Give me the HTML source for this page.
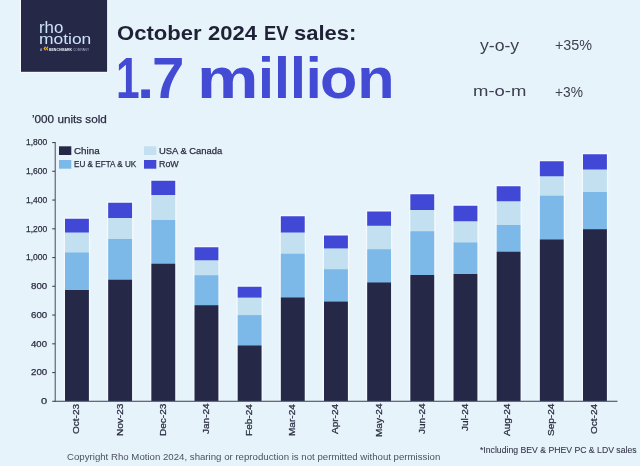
<!DOCTYPE html>
<html lang="en"><head><meta charset="utf-8"><title>October 2024 EV sales</title>
<style>
html,body{margin:0;padding:0;}
body{width:640px;height:466px;overflow:hidden;background:#e7f3fa;font-family:"Liberation Sans",sans-serif;color:#2b2d42;position:relative;}
.a{position:absolute;white-space:nowrap;line-height:1;transform-origin:0 0;-webkit-text-stroke:0.25px currentColor;}
.w{position:absolute;white-space:nowrap;line-height:1;}
.w span{display:inline-block;position:relative;width:0;vertical-align:top;transform-origin:0 0;white-space:pre;}
.s{position:absolute;}
.tk{position:absolute;left:52.2px;width:3px;height:1.1px;background:#454860;}
.sw{position:absolute;width:12.3px;height:8.7px;}
</style></head><body>
<svg class="s" style="left:0;top:0" width="640" height="466" viewBox="0 0 640 466">
<defs><linearGradient id="goct23" gradientUnits="userSpaceOnUse" x1="0" y1="218.75" x2="0" y2="401.00"><stop offset="0.00000" stop-color="#4148d6"/><stop offset="0.07270" stop-color="#4148d6"/><stop offset="0.07819" stop-color="#c3e0f1"/><stop offset="0.18244" stop-color="#c3e0f1"/><stop offset="0.18793" stop-color="#7cb9e8"/><stop offset="0.38820" stop-color="#7cb9e8"/><stop offset="0.39369" stop-color="#262848"/><stop offset="1.00000" stop-color="#262848"/></linearGradient><linearGradient id="gnov23" gradientUnits="userSpaceOnUse" x1="0" y1="202.75" x2="0" y2="401.00"><stop offset="0.00000" stop-color="#4148d6"/><stop offset="0.07440" stop-color="#4148d6"/><stop offset="0.07945" stop-color="#c3e0f1"/><stop offset="0.18033" stop-color="#c3e0f1"/><stop offset="0.18537" stop-color="#7cb9e8"/><stop offset="0.38588" stop-color="#7cb9e8"/><stop offset="0.39092" stop-color="#262848"/><stop offset="1.00000" stop-color="#262848"/></linearGradient><linearGradient id="gdec23" gradientUnits="userSpaceOnUse" x1="0" y1="180.75" x2="0" y2="401.00"><stop offset="0.00000" stop-color="#4148d6"/><stop offset="0.06243" stop-color="#4148d6"/><stop offset="0.06697" stop-color="#c3e0f1"/><stop offset="0.17594" stop-color="#c3e0f1"/><stop offset="0.18048" stop-color="#7cb9e8"/><stop offset="0.37457" stop-color="#7cb9e8"/><stop offset="0.37911" stop-color="#262848"/><stop offset="1.00000" stop-color="#262848"/></linearGradient><linearGradient id="gjan24" gradientUnits="userSpaceOnUse" x1="0" y1="247.25" x2="0" y2="401.00"><stop offset="0.00000" stop-color="#4148d6"/><stop offset="0.08130" stop-color="#4148d6"/><stop offset="0.08780" stop-color="#c3e0f1"/><stop offset="0.17886" stop-color="#c3e0f1"/><stop offset="0.18537" stop-color="#7cb9e8"/><stop offset="0.37398" stop-color="#7cb9e8"/><stop offset="0.38049" stop-color="#262848"/><stop offset="1.00000" stop-color="#262848"/></linearGradient><linearGradient id="gfeb24" gradientUnits="userSpaceOnUse" x1="0" y1="286.75" x2="0" y2="401.00"><stop offset="0.00000" stop-color="#4148d6"/><stop offset="0.09059" stop-color="#4148d6"/><stop offset="0.09934" stop-color="#c3e0f1"/><stop offset="0.24376" stop-color="#c3e0f1"/><stop offset="0.25252" stop-color="#7cb9e8"/><stop offset="0.50985" stop-color="#7cb9e8"/><stop offset="0.51860" stop-color="#262848"/><stop offset="1.00000" stop-color="#262848"/></linearGradient><linearGradient id="gmar24" gradientUnits="userSpaceOnUse" x1="0" y1="216.25" x2="0" y2="401.00"><stop offset="0.00000" stop-color="#4148d6"/><stop offset="0.08525" stop-color="#4148d6"/><stop offset="0.09066" stop-color="#c3e0f1"/><stop offset="0.20027" stop-color="#c3e0f1"/><stop offset="0.20568" stop-color="#7cb9e8"/><stop offset="0.43708" stop-color="#7cb9e8"/><stop offset="0.44249" stop-color="#262848"/><stop offset="1.00000" stop-color="#262848"/></linearGradient><linearGradient id="gapr24" gradientUnits="userSpaceOnUse" x1="0" y1="235.50" x2="0" y2="401.00"><stop offset="0.00000" stop-color="#4148d6"/><stop offset="0.07492" stop-color="#4148d6"/><stop offset="0.08097" stop-color="#c3e0f1"/><stop offset="0.20091" stop-color="#c3e0f1"/><stop offset="0.20695" stop-color="#7cb9e8"/><stop offset="0.39637" stop-color="#7cb9e8"/><stop offset="0.40242" stop-color="#262848"/><stop offset="1.00000" stop-color="#262848"/></linearGradient><linearGradient id="gmay24" gradientUnits="userSpaceOnUse" x1="0" y1="211.50" x2="0" y2="401.00"><stop offset="0.00000" stop-color="#4148d6"/><stop offset="0.07256" stop-color="#4148d6"/><stop offset="0.07784" stop-color="#c3e0f1"/><stop offset="0.19657" stop-color="#c3e0f1"/><stop offset="0.20185" stop-color="#7cb9e8"/><stop offset="0.37203" stop-color="#7cb9e8"/><stop offset="0.37731" stop-color="#262848"/><stop offset="1.00000" stop-color="#262848"/></linearGradient><linearGradient id="gjun24" gradientUnits="userSpaceOnUse" x1="0" y1="194.25" x2="0" y2="401.00"><stop offset="0.00000" stop-color="#4148d6"/><stop offset="0.07376" stop-color="#4148d6"/><stop offset="0.07860" stop-color="#c3e0f1"/><stop offset="0.17654" stop-color="#c3e0f1"/><stop offset="0.18138" stop-color="#7cb9e8"/><stop offset="0.38815" stop-color="#7cb9e8"/><stop offset="0.39299" stop-color="#262848"/><stop offset="1.00000" stop-color="#262848"/></linearGradient><linearGradient id="gjul24" gradientUnits="userSpaceOnUse" x1="0" y1="205.75" x2="0" y2="401.00"><stop offset="0.00000" stop-color="#4148d6"/><stop offset="0.07682" stop-color="#4148d6"/><stop offset="0.08195" stop-color="#c3e0f1"/><stop offset="0.18566" stop-color="#c3e0f1"/><stop offset="0.19078" stop-color="#7cb9e8"/><stop offset="0.34699" stop-color="#7cb9e8"/><stop offset="0.35211" stop-color="#262848"/><stop offset="1.00000" stop-color="#262848"/></linearGradient><linearGradient id="gaug24" gradientUnits="userSpaceOnUse" x1="0" y1="186.25" x2="0" y2="401.00"><stop offset="0.00000" stop-color="#4148d6"/><stop offset="0.06752" stop-color="#4148d6"/><stop offset="0.07218" stop-color="#c3e0f1"/><stop offset="0.17811" stop-color="#c3e0f1"/><stop offset="0.18277" stop-color="#7cb9e8"/><stop offset="0.30268" stop-color="#7cb9e8"/><stop offset="0.30733" stop-color="#262848"/><stop offset="1.00000" stop-color="#262848"/></linearGradient><linearGradient id="gsep24" gradientUnits="userSpaceOnUse" x1="0" y1="161.25" x2="0" y2="401.00"><stop offset="0.00000" stop-color="#4148d6"/><stop offset="0.06048" stop-color="#4148d6"/><stop offset="0.06465" stop-color="#c3e0f1"/><stop offset="0.14181" stop-color="#c3e0f1"/><stop offset="0.14599" stop-color="#7cb9e8"/><stop offset="0.32430" stop-color="#7cb9e8"/><stop offset="0.32847" stop-color="#262848"/><stop offset="1.00000" stop-color="#262848"/></linearGradient><linearGradient id="goct24" gradientUnits="userSpaceOnUse" x1="0" y1="154.25" x2="0" y2="401.00"><stop offset="0.00000" stop-color="#4148d6"/><stop offset="0.05978" stop-color="#4148d6"/><stop offset="0.06383" stop-color="#c3e0f1"/><stop offset="0.15096" stop-color="#c3e0f1"/><stop offset="0.15502" stop-color="#7cb9e8"/><stop offset="0.30193" stop-color="#7cb9e8"/><stop offset="0.30598" stop-color="#262848"/><stop offset="1.00000" stop-color="#262848"/></linearGradient></defs>
<rect x="19.80" y="0.00" width="88.50" height="73.00" fill="#f3f9fe"/>
<rect x="21.00" y="0.00" width="86.10" height="71.80" fill="#262848"/>
<path d="M45.2 46.2 L43.4 48.4 L45.2 50.8 L46 49.8 L45 48.4 L46 47.2 Z" fill="#f3b229"/>
<path d="M47.4 46.2 L45.9 48.4 L47.4 50.8 L48.2 49.8 L47.3 48.4 L48.2 47.2 Z" fill="#f3b229"/>
<rect x="52.20" y="400.75" width="3.00" height="1.10" fill="#454860"/>
<rect x="52.20" y="372.00" width="3.00" height="1.10" fill="#454860"/>
<rect x="52.20" y="343.25" width="3.00" height="1.10" fill="#454860"/>
<rect x="52.20" y="314.50" width="3.00" height="1.10" fill="#454860"/>
<rect x="52.20" y="285.75" width="3.00" height="1.10" fill="#454860"/>
<rect x="52.20" y="257.00" width="3.00" height="1.10" fill="#454860"/>
<rect x="52.20" y="228.25" width="3.00" height="1.10" fill="#454860"/>
<rect x="52.20" y="199.50" width="3.00" height="1.10" fill="#454860"/>
<rect x="52.20" y="170.75" width="3.00" height="1.10" fill="#454860"/>
<rect x="52.20" y="142.00" width="3.00" height="1.10" fill="#454860"/>
<rect x="63.70" y="217.45" width="26.50" height="183.55" fill="#f3f9fe"/>
<rect x="106.87" y="201.45" width="26.50" height="199.55" fill="#f3f9fe"/>
<rect x="150.03" y="179.45" width="26.50" height="221.55" fill="#f3f9fe"/>
<rect x="193.20" y="245.95" width="26.50" height="155.05" fill="#f3f9fe"/>
<rect x="236.37" y="285.45" width="26.50" height="115.55" fill="#f3f9fe"/>
<rect x="279.53" y="214.95" width="26.50" height="186.05" fill="#f3f9fe"/>
<rect x="322.70" y="234.20" width="26.50" height="166.80" fill="#f3f9fe"/>
<rect x="365.87" y="210.20" width="26.50" height="190.80" fill="#f3f9fe"/>
<rect x="409.03" y="192.95" width="26.50" height="208.05" fill="#f3f9fe"/>
<rect x="452.20" y="204.45" width="26.50" height="196.55" fill="#f3f9fe"/>
<rect x="495.37" y="184.95" width="26.50" height="216.05" fill="#f3f9fe"/>
<rect x="538.53" y="159.95" width="26.50" height="241.05" fill="#f3f9fe"/>
<rect x="581.70" y="152.95" width="26.50" height="248.05" fill="#f3f9fe"/>
<rect x="65.00" y="218.75" width="23.9" height="182.25" fill="url(#goct23)"/>
<rect x="108.17" y="202.75" width="23.9" height="198.25" fill="url(#gnov23)"/>
<rect x="151.33" y="180.75" width="23.9" height="220.25" fill="url(#gdec23)"/>
<rect x="194.50" y="247.25" width="23.9" height="153.75" fill="url(#gjan24)"/>
<rect x="237.67" y="286.75" width="23.9" height="114.25" fill="url(#gfeb24)"/>
<rect x="280.83" y="216.25" width="23.9" height="184.75" fill="url(#gmar24)"/>
<rect x="324.00" y="235.50" width="23.9" height="165.50" fill="url(#gapr24)"/>
<rect x="367.17" y="211.50" width="23.9" height="189.50" fill="url(#gmay24)"/>
<rect x="410.33" y="194.25" width="23.9" height="206.75" fill="url(#gjun24)"/>
<rect x="453.50" y="205.75" width="23.9" height="195.25" fill="url(#gjul24)"/>
<rect x="496.67" y="186.25" width="23.9" height="214.75" fill="url(#gaug24)"/>
<rect x="539.83" y="161.25" width="23.9" height="239.75" fill="url(#gsep24)"/>
<rect x="583.00" y="154.25" width="23.9" height="246.75" fill="url(#goct24)"/>
<rect x="59.00" y="146.30" width="12.30" height="8.70" fill="#262848"/>
<rect x="59.00" y="160.00" width="12.30" height="8.70" fill="#7cb9e8"/>
<rect x="144.00" y="146.30" width="12.30" height="8.70" fill="#c3e0f1"/>
<rect x="144.00" y="160.00" width="12.30" height="8.70" fill="#4148d6"/>
<rect x="54.7" y="142" width="1.0" height="259.80" fill="#454860"/>
<rect x="54.7" y="400.75" width="562.8" height="1.05" fill="#454860"/>
</svg>
<div class="a" id="rho" style="left:38.79px;top:20.10px;font-size:15.81px;color:#cde4f7;transform:scaleX(1.0635);-webkit-text-stroke:0;">rho</div>
<div class="a" id="motion" style="left:38.75px;top:32.22px;font-size:14.86px;color:#cde4f7;transform:scaleX(1.1726);-webkit-text-stroke:0;">motion</div>
<div class="w" id="tag" style="left:0;top:48.63px;font-size:3.7px;"><span style="left:40.20px;transform:scaleX(0.8600);font-weight:normal;color:#b9c2d6">A </span><span style="left:48.59px;transform:scaleX(0.9510);font-weight:bold;color:#eef2f9">BENCHMARK </span><span style="left:73.34px;transform:scaleX(0.8752);font-weight:normal;color:#a9b2c8">COMPANY</span></div>
<div class="w" id="title" style="left:0;top:22.57px;font-size:20.27px;color:#1f2137;font-weight:bold;"><span style="left:117.22px;transform:scaleX(1.0885)">October </span><span style="left:207.94px;transform:scaleX(1.0858)">2024 </span><span style="left:263.50px;transform:scaleX(0.9051)">EV </span><span style="left:294.12px;transform:scaleX(1.0853)">sales:</span></div>
<div class="w" id="big" style="left:0;top:50.46px;font-size:57.03px;color:#434bd5;font-weight:bold;"><span style="left:116.05px;transform:scaleX(0.7462)">1</span><span style="left:136.98px;transform:scaleX(1.0872)">.</span><span style="left:152.17px;transform:scaleX(1.0229)">7 </span><span style="left:197.10px;transform:scaleX(1.2127)">m</span><span style="left:257.65px;transform:scaleX(1.0074)">illi</span><span style="left:320.05px;transform:scaleX(1.0725)">on</span></div>
<div class="a" id="yoy" style="left:480.25px;top:37.94px;font-size:16.00px;color:#3c4050;transform:scaleX(1.1022);-webkit-text-stroke:0;">y-o-y</div>
<div class="a" id="yoyv" style="left:554.68px;top:39.33px;font-size:13.80px;color:#3c4050;transform:scaleX(1.0391);-webkit-text-stroke:0;">+35%</div>
<div class="a" id="mom" style="left:472.89px;top:83.31px;font-size:15.45px;color:#3c4050;transform:scaleX(1.1972);-webkit-text-stroke:0;">m-o-m</div>
<div class="a" id="momv" style="left:554.70px;top:85.93px;font-size:13.80px;color:#3c4050;transform:scaleX(0.9980);-webkit-text-stroke:0;">+3%</div>
<div class="a" id="units" style="left:31.80px;top:113.87px;font-size:11.08px;color:#2b2d42;transform:scaleX(1.0564);">’000 units sold</div>
<div class="a" style="left:40.86px;top:396.88px;font-size:8.80px;color:#2b2d42;transform:scaleX(1.254333333333333);">0</div>
<div class="a" style="left:30.71px;top:368.13px;font-size:8.80px;color:#2b2d42;transform:scaleX(1.107240506329114);">200</div>
<div class="a" style="left:31.01px;top:339.88px;font-size:8.80px;color:#2b2d42;transform:scaleX(1.0866086956521739);">400</div>
<div class="a" style="left:30.71px;top:310.63px;font-size:8.80px;color:#2b2d42;transform:scaleX(1.107240506329114);">600</div>
<div class="a" style="left:30.81px;top:281.88px;font-size:8.80px;color:#2b2d42;transform:scaleX(1.1002767295597484);">800</div>
<div class="a" style="left:25.61px;top:253.13px;font-size:8.80px;color:#2b2d42;transform:scaleX(0.9655999999999997);">1,000</div>
<div class="a" style="left:25.61px;top:224.88px;font-size:8.80px;color:#2b2d42;transform:scaleX(0.9655999999999997);">1,200</div>
<div class="a" style="left:25.61px;top:195.63px;font-size:8.80px;color:#2b2d42;transform:scaleX(0.9655999999999997);">1,400</div>
<div class="a" style="left:25.61px;top:166.88px;font-size:8.80px;color:#2b2d42;transform:scaleX(0.9655999999999997);">1,600</div>
<div class="a" style="left:25.61px;top:138.13px;font-size:8.80px;color:#2b2d42;transform:scaleX(0.9655999999999997);">1,800</div>
<div class="a" style="left:71.60px;top:433.73px;font-size:9.30px;color:#2b2d42;transform:rotate(-90deg) scaleX(1.0800);">Oct-23</div>
<div class="a" style="left:115.52px;top:435.94px;font-size:9.30px;color:#2b2d42;transform:rotate(-90deg) scaleX(1.0800);">Nov-23</div>
<div class="a" style="left:158.69px;top:435.94px;font-size:9.30px;color:#2b2d42;transform:rotate(-90deg) scaleX(1.0800);">Dec-23</div>
<div class="a" style="left:201.60px;top:434.43px;font-size:9.30px;color:#2b2d42;transform:rotate(-90deg) scaleX(1.0800);">Jan-24</div>
<div class="a" style="left:244.66px;top:435.54px;font-size:9.30px;color:#2b2d42;transform:rotate(-90deg) scaleX(1.0800);">Feb-24</div>
<div class="a" style="left:287.69px;top:435.54px;font-size:9.30px;color:#2b2d42;transform:rotate(-90deg) scaleX(1.0800);">Mar-24</div>
<div class="a" style="left:330.67px;top:433.93px;font-size:9.30px;color:#2b2d42;transform:rotate(-90deg) scaleX(1.0800);">Apr-24</div>
<div class="a" style="left:374.59px;top:437.25px;font-size:9.30px;color:#2b2d42;transform:rotate(-90deg) scaleX(1.0800);">May-24</div>
<div class="a" style="left:417.69px;top:434.43px;font-size:9.30px;color:#2b2d42;transform:rotate(-90deg) scaleX(1.0800);">Jun-24</div>
<div class="a" style="left:460.74px;top:431.12px;font-size:9.30px;color:#2b2d42;transform:rotate(-90deg) scaleX(1.0800);">Jul-24</div>
<div class="a" style="left:502.59px;top:436.14px;font-size:9.30px;color:#2b2d42;transform:rotate(-90deg) scaleX(1.0800);">Aug-24</div>
<div class="a" style="left:546.51px;top:436.14px;font-size:9.30px;color:#2b2d42;transform:rotate(-90deg) scaleX(1.0800);">Sep-24</div>
<div class="a" style="left:589.60px;top:433.93px;font-size:9.30px;color:#2b2d42;transform:rotate(-90deg) scaleX(1.0800);">Oct-24</div>
<div class="a" id="l1" style="left:74.26px;top:146.53px;font-size:8.92px;color:#2b2d42;transform:scaleX(1.1016);">China</div>
<div class="a" id="l2" style="left:74.10px;top:159.07px;font-size:9.57px;color:#2b2d42;transform:scaleX(0.8510);">EU &amp; EFTA &amp; UK</div>
<div class="a" id="l3" style="left:159.09px;top:146.53px;font-size:8.92px;color:#2b2d42;transform:scaleX(1.0564);">USA &amp; Canada</div>
<div class="a" id="l4" style="left:159.04px;top:159.18px;font-size:9.44px;color:#2b2d42;transform:scaleX(0.9409);">RoW</div>
<div class="a" id="foot" style="left:479.93px;top:445.21px;font-size:9.89px;color:#33374a;transform:scaleX(0.8777);-webkit-text-stroke:0.1px currentColor;">*Including BEV &amp; PHEV PC &amp; LDV sales</div>
<div class="a" id="copy" style="left:66.82px;top:452.71px;font-size:9.04px;color:#4b5062;transform:scaleX(1.0683);-webkit-text-stroke:0;">Copyright Rho Motion 2024, sharing or reproduction is not permitted without permission</div>
</body></html>
